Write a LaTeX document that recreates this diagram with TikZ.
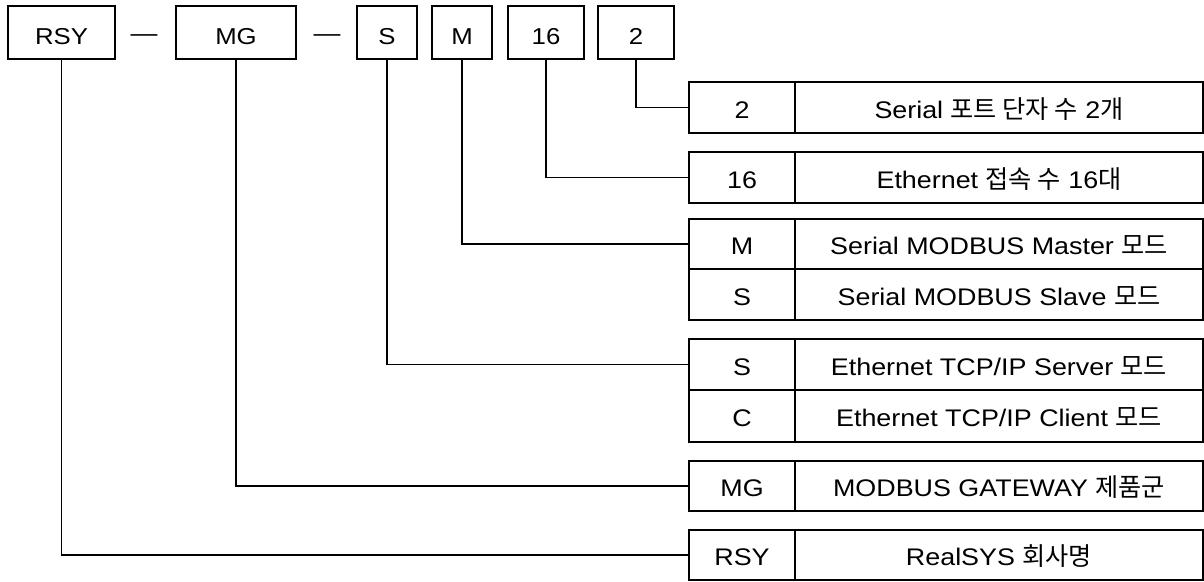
\documentclass[tikz,border=0pt]{standalone}
\usepackage{fontspec}
\setmainfont[FakeStretch=1.12]{Liberation Sans}
\newfontfamily\krfont[Scale=1.05]{Noto Sans CJK KR}
\newcommand\kor[1]{{\krfont #1}}
\begin{document}
\begin{tikzpicture}[x=1pt,y=-1pt,
  topbox/.style={draw, line width=1.3pt, inner sep=0pt, minimum height=53pt,
    font=\fontsize{23}{27}\selectfont, text height=23.5pt, text depth=0pt},
  cell/.style={draw, line width=2pt, inner sep=0pt,
    font=\fontsize{24}{28}\selectfont, text height=21pt, text depth=0pt},
  codecell/.style={cell, minimum width=106pt},
  desccell/.style={cell, minimum width=408pt},
  conn/.style={line width=1.3pt},
  dashtext/.style={inner sep=0pt, font=\fontsize{24}{28}\selectfont, anchor=base}]
\fill[white] (0,0) rectangle (1204,581);
\useasboundingbox (0,0) rectangle (1204,581);

% top code boxes
\node[topbox, minimum width=107pt] (tRSY) at (61.5,32.5) {RSY};
\node[topbox, minimum width=120pt] (tMG) at (236,32.5) {MG};
\node[topbox, minimum width=60pt] (tS) at (387,32.5) {S};
\node[topbox, minimum width=60pt] (tM) at (462,32.5) {M};
\node[topbox, minimum width=76pt] (t16) at (546,32.5) {16};
\node[topbox, minimum width=76pt] (t2) at (636,32.5) {2};
\node[dashtext] (dash1) at (144,41) {—};
\node[dashtext] (dash2) at (327,41) {—};

% table rows
\node[codecell, minimum height=51pt] (c2) at (742,107.5) {2};
\node[desccell, minimum height=51pt] (d2) at (999,107.5) {Serial \kor{포트 단자 수} 2\kor{개}};

\node[codecell, minimum height=51pt] (c16) at (742,177.5) {16};
\node[desccell, minimum height=51pt] (d16) at (999,177.5) {Ethernet \kor{접속 수} 16\kor{대}};

\node[codecell, minimum height=50pt] (cM) at (742,244) {M};
\node[desccell, minimum height=50pt] (dM) at (999,244) {Serial MODBUS Master \kor{모드}};
\node[codecell, minimum height=51pt] (cSS) at (742,294.5) {S};
\node[desccell, minimum height=51pt] (dSS) at (999,294.5) {Serial MODBUS Slave \kor{모드}};

\node[codecell, minimum height=51pt] (cES) at (742,364.5) {S};
\node[desccell, minimum height=51pt] (dES) at (999,364.5) {Ethernet TCP/IP Server \kor{모드}};
\node[codecell, minimum height=52pt] (cEC) at (742,416) {C};
\node[desccell, minimum height=52pt] (dEC) at (999,416) {Ethernet TCP/IP Client \kor{모드}};

\node[codecell, minimum height=50pt] (cMG) at (742,486) {MG};
\node[desccell, minimum height=50pt] (dMG) at (999,486) {MODBUS GATEWAY \kor{제품군}};

\node[codecell, minimum height=50pt] (cRSY) at (742,555) {RSY};
\node[desccell, minimum height=50pt] (dRSY) at (999,555) {RealSYS \kor{회사명}};

% connectors
\draw[conn] (t2.south) |- (c2.west);
\draw[conn] (t16.south) |- (c16.west);
\draw[conn] (tM.south) |- (cM.west);
\draw[conn] (tS.south) |- (cES.west);
\draw[conn] (tMG.south) |- (cMG.west);
\draw[conn] (tRSY.south) |- (cRSY.west);
\end{tikzpicture}
\end{document}
